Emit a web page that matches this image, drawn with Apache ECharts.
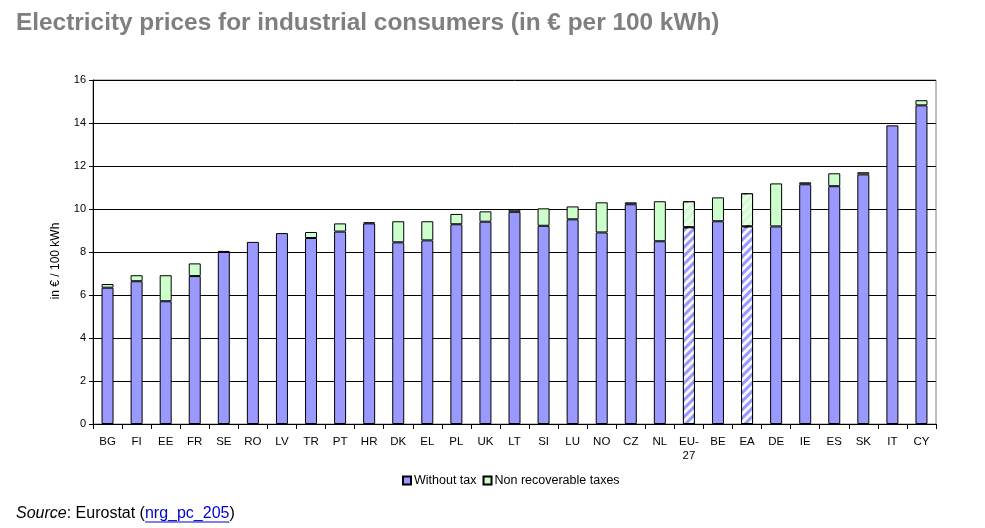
<!DOCTYPE html>
<html>
<head>
<meta charset="utf-8">
<script src="https://cdn.jsdelivr.net/npm/echarts@6/dist/echarts.min.js"></script>
<style>
html,body{margin:0;padding:0;background:#fff;}
#chart{width:985px;height:528px;}
</style>
</head>
<body>
<div id="chart"></div>
<script>
const categories = ['BG','FI','EE','FR','SE','RO','LV','TR','PT','HR','DK','EL','PL','UK','LT','SI','LU','NO','CZ','NL','EU-27','BE','EA','DE','IE','ES','SK','IT','CY'];
const withoutTax = [6.34,6.64,5.71,6.88,8.0,8.47,8.88,8.65,8.95,9.33,8.45,8.54,9.29,9.41,9.87,9.22,9.52,8.91,10.22,8.50,9.15,9.43,9.19,9.19,11.15,11.06,11.61,13.89,14.82];
const nonRecoverableTaxes = [0.17,0.28,1.21,0.59,0.05,0,0,0.28,0.38,0.05,0.98,0.89,0.48,0.48,0.10,0.81,0.60,1.40,0.09,1.86,1.21,1.11,1.54,2.00,0.09,0.60,0.10,0,0.24];
const hatched = ['EU-27','EA'];
const yTicks = [0,2,4,6,8,10,12,14,16];

const hatchBlue = {symbol:'rect', symbolSize:1, dashArrayX:[1,0], dashArrayY:[3,3], rotation:-Math.PI/4, color:'rgba(255,255,255,0.95)'};
const hatchGreen = {symbol:'rect', symbolSize:1, dashArrayX:[1,0], dashArrayY:[3,3], rotation:-Math.PI/4, color:'rgba(255,255,255,0.7)'};

function buildData(arr, decal){
  return arr.map((v,i)=> {
    if (v === 0) return '-';
    return hatched.indexOf(categories[i])>=0 ? {value:v, itemStyle:{decal:decal}} : v;
  });
}

const chart = echarts.init(document.getElementById('chart'), null, {renderer:'canvas'});

// measure text for underline
const cv = document.createElement('canvas').getContext('2d');
cv.font = 'italic 16px Arial';
const wSource = cv.measureText('Source').width;
cv.font = '16px Arial';
const wMid = cv.measureText(': Eurostat (').width;
const wLink = cv.measureText('nrg_pc_205').width;
const srcX = 16, srcY = 506;

const option = {
  backgroundColor:'#fff',
  animation:false,
  title:{
    text:'Electricity prices for industrial consumers (in € per 100 kWh)',
    left:11, top:6,
    textStyle:{fontFamily:'Arial', fontWeight:'bold', fontSize:24.4, color:'#7f7f7f'}
  },
  legend:{
    left:397, top:469,
    itemWidth:8, itemHeight:8, itemGap:6,
    icon:'rect',
    textStyle:{fontFamily:'Arial', fontSize:12.5, color:'#000', padding:[0,0,0,-2]},
    data:['Without tax','Non recoverable taxes']
  },
  grid:{left:93, right:49, top:80, bottom:104, show:true, borderColor:'#808080', borderWidth:1, backgroundColor:'transparent'},
  xAxis:{
    type:'category',
    data:categories,
    axisLine:{lineStyle:{color:'#000', width:1}},
    axisTick:{show:true, length:5, lineStyle:{color:'#000'}},
    axisLabel:{interval:0, fontFamily:'Arial', fontSize:11.5, color:'#000', margin:11,
      formatter: v => v==='EU-27' ? 'EU-\n27' : v, lineHeight:14}
  },
  yAxis:{
    type:'value', min:0, max:16, interval:2,
    name:'in € / 100 kWh', nameLocation:'middle', nameGap:31, nameRotate:90,
    nameTextStyle:{fontFamily:'Arial', fontSize:12, color:'#000', padding:[0,0,0,-18]},
    axisLine:{show:true, lineStyle:{color:'#000', width:1}},
    axisTick:{show:true, length:4, lineStyle:{color:'#000'}},
    axisLabel:{fontFamily:'Arial', fontSize:11, color:'#000', margin:7,
      formatter: v => yTicks.indexOf(v)>=0 ? String(v) : ''},
    splitLine:{show:true, lineStyle:{color:'#000', width:1}}
  },
  series:[
    {name:'Without tax', type:'bar', stack:'total', barWidth:12,
     itemStyle:{color:'#9999ff', borderColor:'#000', borderWidth:1},
     data:buildData(withoutTax, hatchBlue)},
    {name:'Non recoverable taxes', type:'bar', stack:'total', barWidth:12,
     itemStyle:{color:'#ccffcc', borderColor:'#000', borderWidth:1},
     data:buildData(nonRecoverableTaxes, hatchGreen)}
  ],
  graphic:[
    {type:'text', left:srcX, top:srcY,
     style:{text:'{i|Source}{n|: Eurostat (}{l|nrg_pc_205}{n|)}',
       rich:{
         i:{fontFamily:'Arial', fontSize:16, fontStyle:'italic', fill:'#000'},
         n:{fontFamily:'Arial', fontSize:16, fill:'#000'},
         l:{fontFamily:'Arial', fontSize:16, fill:'#0000cc'}
       }}},
    {type:'line', shape:{x1:srcX+wSource+wMid, y1:srcY+16, x2:srcX+wSource+wMid+wLink, y2:srcY+16},
     style:{stroke:'#0000cc', lineWidth:1}}
  ]
};
chart.setOption(option);
</script>
</body>
</html>
